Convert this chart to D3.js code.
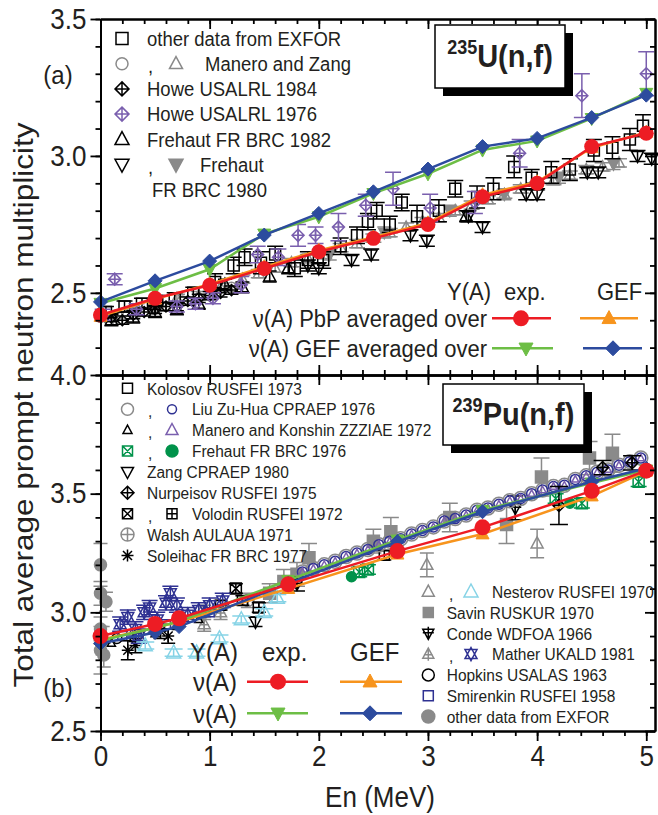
<!DOCTYPE html>
<html><head><meta charset="utf-8">
<script src="https://cdn.jsdelivr.net/npm/d3@7"></script>
<style>
html,body{margin:0;padding:0;background:#fff;}
svg{display:block;font-family:"Liberation Sans",Arial,sans-serif;}
</style></head><body>
<svg id="c" width="658" height="815"></svg>
<script>
// ===== DATA: calculations (energies in MeV) =====
const E_U = [0, 0.5, 1, 1.5, 2, 2.5, 3, 3.5, 4, 4.5, 5];
const U_pbp_exp = [2.419, 2.480, 2.528, 2.589, 2.650, 2.699, 2.750, 2.851, 2.900, 3.034, 3.083];
const U_pbp_gef = [2.414, 2.477, 2.532, 2.595, 2.655, 2.703, 2.755, 2.858, 2.905, 3.030, 3.086];
const U_gef_exp = [2.462, 2.516, 2.586, 2.715, 2.778, 2.863, 2.935, 3.022, 3.055, 3.137, 3.229];
const U_gef_gef = [2.467, 2.544, 2.616, 2.711, 2.790, 2.869, 2.952, 3.034, 3.064, 3.140, 3.222];

const E_Pu = [0, 0.5, 0.72, 1.72, 2.72, 3.5, 4.5, 5];
const Pu_pbp_exp = [2.900, 2.951, 2.975, 3.118, 3.258, 3.358, 3.512, 3.597];
const Pu_pbp_gef = [2.885, 2.935, 2.960, 3.100, 3.245, 3.330, 3.490, 3.595];
const Pu_gef_exp = [2.880, 2.935, 2.962, 3.135, 3.305, 3.430, 3.545, 3.600];
const Pu_gef_gef = [2.869, 2.915, 2.940, 3.122, 3.298, 3.424, 3.550, 3.607];

// ===== DATA: experiments, 235U  [E, nu, err] =====
const U_other = [[0.05,2.43,0.02],[0.22,2.45,0.02],[0.38,2.46,0.02],[0.52,2.47,0.02],[0.68,2.48,0.02],[0.85,2.50,0.02],[1.05,2.54,0.03],[1.22,2.60,0.03],[1.32,2.63,0.03],[1.47,2.61,0.04],[1.6,2.64,0.03],[1.78,2.59,0.03],[1.9,2.62,0.03],[2.04,2.62,0.03],[2.2,2.67,0.03],[2.35,2.71,0.03],[2.45,2.76,0.03],[2.53,2.80,0.03],[2.65,2.75,0.03],[2.76,2.83,0.03],[2.9,2.78,0.04],[3.1,2.80,0.04],[3.25,2.88,0.03],[3.45,2.85,0.04],[3.6,2.88,0.04],[3.79,2.96,0.04],[3.95,2.92,0.03],[4.13,2.94,0.04],[4.3,2.95,0.04],[4.52,3.02,0.04],[4.69,3.03,0.04],[4.85,3.06,0.04],[4.97,3.11,0.04]];
const U_mzCirc = [[0.0,2.41,0.01],[0.08,2.40,0.01],[0.15,2.42,0.01],[0.25,2.42,0.01],[0.35,2.43,0.01],[0.48,2.44,0.01],[0.6,2.45,0.01],[0.75,2.47,0.01],[0.9,2.48,0.01],[1.05,2.50,0.01],[1.2,2.52,0.01]];
const U_mzTri = [[0.1,2.41,0.015],[0.3,2.43,0.015],[0.5,2.45,0.015],[0.7,2.48,0.015],[0.9,2.49,0.015],[1.1,2.52,0.015],[1.3,2.55,0.015],[1.45,2.57,0.015],[1.6,2.59,0.015],[1.75,2.61,0.015],[1.9,2.625,0.015],[2.05,2.64,0.015],[2.2,2.665,0.015],[2.35,2.68,0.015],[2.5,2.70,0.015],[2.65,2.72,0.015],[2.8,2.74,0.015],[2.95,2.76,0.015],[3.1,2.775,0.015],[3.25,2.80,0.015],[3.4,2.82,0.015],[3.55,2.84,0.015],[3.7,2.86,0.015],[3.85,2.88,0.015],[4.0,2.89,0.015],[4.15,2.91,0.015],[4.3,2.93,0.015],[4.45,2.95,0.015],[4.6,2.96,0.015],[4.75,2.975,0.015]];
const U_howe84 = [[0.1,2.41,0.015],[0.2,2.40,0.015],[0.3,2.42,0.015],[0.4,2.43,0.015],[0.5,2.44,0.015],[0.6,2.45,0.015],[0.7,2.45,0.015],[0.8,2.47,0.015],[0.9,2.48,0.015],[1.0,2.49,0.015],[1.1,2.50,0.015],[1.2,2.51,0.015]];
const U_howe76 = [[0.02,2.42,0.02],[0.13,2.55,0.02],[0.33,2.44,0.02],[0.7,2.45,0.02],[0.87,2.46,0.02],[1.03,2.48,0.02],[1.29,2.53,0.03],[1.44,2.64,0.03],[1.63,2.63,0.03],[1.81,2.71,0.04],[1.97,2.71,0.03],[2.18,2.74,0.05],[2.43,2.82,0.04],[2.68,2.88,0.06],[3.02,2.81,0.05],[3.43,2.83,0.04],[3.84,3.01,0.05],[4.41,3.22,0.08],[5.0,3.30,0.08]];
const U_freh82 = [[0.1,2.40,0.02],[0.3,2.41,0.02],[0.5,2.43,0.02],[0.7,2.44,0.02],[0.9,2.46,0.02],[1.14,2.53,0.02],[1.3,2.52,0.02],[1.55,2.56,0.02],[1.72,2.59,0.02],[3.35,2.78,0.02]];
const U_freh80 = [[1.9,2.60,0.02],[2.0,2.59,0.02],[2.3,2.62,0.02],[2.48,2.64,0.02],[2.84,2.71,0.02],[2.99,2.69,0.02],[3.37,2.78,0.02],[3.5,2.74,0.02],[3.9,2.86,0.02],[4.0,2.86,0.02],[4.46,2.94,0.02],[4.56,2.94,0.02],[4.92,3.00,0.02],[5.05,2.99,0.02]];
const U_freh80g = [[2.1,2.64,0.02],[2.6,2.72,0.02],[3.2,2.80,0.02],[3.7,2.86,0.02],[4.2,2.92,0.02],[4.7,2.97,0.02]];

// ===== DATA: experiments, 239Pu  [E, nu, err] =====
const Pu_chain = [[1.85,3.17,0.01],[1.95,3.185,0.01],[2.05,3.2,0.01],[2.15,3.215,0.01],[2.25,3.235,0.01],[2.35,3.25,0.01],[2.45,3.265,0.01],[2.55,3.285,0.01],[2.65,3.30,0.01],[2.75,3.31,0.01],[2.85,3.33,0.01],[2.95,3.345,0.01],[3.05,3.36,0.01],[3.15,3.385,0.01],[3.25,3.395,0.01],[3.35,3.41,0.01],[3.45,3.43,0.01],[3.55,3.44,0.01],[3.65,3.455,0.01],[3.75,3.47,0.01],[3.85,3.48,0.01],[3.95,3.50,0.01],[4.05,3.515,0.01],[4.15,3.53,0.01],[4.25,3.535,0.01],[4.35,3.56,0.01],[4.45,3.575,0.01],[4.55,3.59,0.01],[4.65,3.60,0.01],[4.75,3.62,0.01],[4.85,3.635,0.01],[4.95,3.65,0.01]];
const Pu_savin = [[1.55,3.08,0.04],[1.68,3.13,0.05],[1.8,3.16,0.05],[1.91,3.23,0.06],[2.5,3.30,0.05],[2.66,3.34,0.06],[3.2,3.40,0.06],[3.72,3.37,0.08],[4.04,3.57,0.08],[4.48,3.65,0.07],[4.69,3.67,0.08]];
const Pu_other = [[0,3.20,0.09],[0,3.08,0.05],[0.05,3.045,0.04],[0,2.93,0.05],[0.02,2.88,0.06],[0,2.84,0.10],[0.03,2.82,0.05]];
const Pu_nestGrey = [[2.99,3.20,0.05],[4.0,3.29,0.06]];
const Pu_nestBlue = [[0.41,2.86,0.015],[0.67,2.83,0.015],[0.88,2.83,0.015],[1.09,2.89,0.015],[1.29,2.97,0.015],[1.5,3.0,0.015],[1.62,3.06,0.015]];
const Pu_mather = [[0.18,2.95,0.03],[0.25,2.98,0.03],[0.32,2.93,0.03],[0.35,2.90,0.03],[0.4,3.0,0.03],[0.45,3.02,0.03],[0.52,2.97,0.03],[0.6,3.04,0.03],[0.64,3.08,0.03],[0.7,3.03,0.03],[0.8,2.99,0.03],[0.9,3.01,0.03],[1.0,3.03,0.03],[1.12,3.05,0.03]];
const Pu_matherGrey = [[0.95,2.95,0.03],[1.1,3.0,0.03]];
const Pu_nurp = [[4.2,3.45,0.08],[4.6,3.61,0.03],[4.87,3.63,0.03]];
const Pu_freh76 = [[2.37,3.17,0.02],[2.45,3.18,0.02],[4.17,3.48,0.02],[4.41,3.46,0.02],[4.93,3.55,0.02]];
const Pu_freh76dot = [[2.3,3.15,0.01],[4.3,3.46,0.01]];
const Pu_conde = [[1.8,3.12,0.03],[3.8,3.44,0.05]];
const Pu_zang = [[1.42,2.96,0.02]];
const Pu_soleihac = [[0.25,2.84,0.04],[0.32,2.86,0.03],[0.55,2.92,0.03],[0.62,2.90,0.03]];
const Pu_volodinX = [[1.24,3.10,0.02]];
const Pu_volodinP = [[1.45,3.02,0.02]];
const Pu_walsh = [[0.95,3.0,0.03],[1.35,3.05,0.03]];
const Pu_manKonBlack = [[0.1,2.87,0.01],[0.3,2.89,0.01],[0.5,2.91,0.01],[0.7,2.94,0.01],[0.9,2.97,0.01]];
const Pu_hopkins = [[0.15,2.89,0.01],[0.35,2.91,0.01]];
const Pu_smirenkin = [[0.2,2.90,0.01],[0.6,2.95,0.01],[1.0,3.00,0.01]];
const Pu_kolosov = [[1.1,3.03,0.02],[1.3,3.05,0.02],[2.6,3.24,0.02]];

// ===== AXIS TICKS =====
const xMajor = [0,1,2,3,4,5];
const xMinor = d3.range(0, 5.01, 0.2);
const yTopMajor = [2.5, 3.0, 3.5];
const yTopMinor = d3.range(2.2, 3.51, 0.1);
const yBotMajor = [2.5, 3.0, 3.5, 4.0];
const yBotMinor = d3.range(2.5, 4.01, 0.1);

// ===== COLOURS =====
const C = {txt:'#231f20', red:'#ed1c24', orange:'#f7941d', green:'#6dbe45', blue:'#2c4b9e',
  purple:'#7a5fae', grey:'#8a8a8a', dblue:'#2e3192', lblue:'#86d3e6', dgreen:'#00924a'};
const VS = 1.1; // vertical stretch of glyphs as in the reference

const svg = d3.select('#c');
const x = d3.scaleLinear().domain([0,5.08]).range([100.5,655]);
const yT = d3.scaleLinear().domain([2.2,3.5]).range([375,19]);
const yB = d3.scaleLinear().domain([2.5,4.0]).range([731,375]);

function shapePath(t, s){
  const sq=`M${-s},${-s}H${s}V${s}H${-s}Z`;
  const ci=`M${s},0A${s},${s} 0 1,1 ${-s},0A${s},${s} 0 1,1 ${s},0Z`;
  const tu=`M0,${-s*1.1}L${s},${s*0.75}L${-s},${s*0.75}Z`;
  const td=`M0,${s*1.1}L${s},${-s*0.75}L${-s},${-s*0.75}Z`;
  const plus=`M0,${-s}V${s}M${-s},0H${s}`;
  const cross=`M${-s},${-s}L${s},${s}M${s},${-s}L${-s},${s}`;
  switch(t){
    case 'sq': return sq;
    case 'ci': return ci;
    case 'tu': return tu;
    case 'td': return td;
    case 'dx': return `M0,${-s}L${s},0L0,${s}L${-s},0Z`+plus;
    case 'dm': return `M0,${-s}L${s},0L0,${s}L${-s},0Z`;
    case 'sqx': return sq+cross;
    case 'sqp': return sq+plus;
    case 'cip': return ci+plus;
    case 'ast': return `M0,${-s}V${s}M${-s},0H${s}M${-s*.75},${-s*.75}L${s*.75},${s*.75}M${s*.75},${-s*.75}L${-s*.75},${s*.75}`;
    case 'hex': return tu+td;
    case 'tdx': return td+`M0,${-s*1.2}V${s*1.1}M${-s},${-s*0.1}H${s}`;
    case 'tup': return tu+`M0,${-s*1.1}V${s*1.2}M${-s*0.8},${s*0.1}H${s*0.8}`;
  }
}
function mark(g, t, cx, cy, col, s, filled, sw){
  g.append('path').attr('d', shapePath(t,s)).attr('transform',`translate(${cx},${cy})`)
   .attr('fill', filled?col:'none').attr('stroke',col).attr('stroke-width',sw||1.5);
}
function series(g, data, y, t, col, s, filled, cap, ecol){
  const gg = g.append('g');
  data.forEach(d=>{
    const cx=x(d[0]);
    if(d[2]>0.012){
      gg.append('path').attr('d',`M${cx-cap/2},${y(d[1]+d[2])}H${cx+cap/2}M${cx},${y(d[1]+d[2])}V${y(d[1]-d[2])}M${cx-cap/2},${y(d[1]-d[2])}H${cx+cap/2}`)
        .attr('stroke',ecol||col).attr('stroke-width',1.5).attr('fill','none');
    }
  });
  data.forEach(d=>mark(gg,t,x(d[0]),y(d[1]),col,s,filled));
}
function model(g, E, vals, y, col, t, s){
  const pts = E.map((e,i)=>[e,vals[i]]);
  g.append('path').datum(pts).attr('d', d3.line().x(d=>x(d[0])).y(d=>y(d[1])))
   .attr('fill','none').attr('stroke',col).attr('stroke-width',2.5);
  pts.forEach(p=>{
    if(t==='dot') g.append('circle').attr('cx',x(p[0])).attr('cy',y(p[1])).attr('r',s).attr('fill',col);
    else mark(g,t,x(p[0]),y(p[1]),col,s,true,1);
  });
}
function text(g, tx, ty, str, size, anchor, opts){
  const t=g.append('text').attr('transform',`translate(${tx},${ty}) scale(1,${VS})`).attr('font-size',size).attr('fill',C.txt)
    .attr('text-anchor',anchor||'start').attr('dominant-baseline','central').text(str);
  if(opts&&opts.bold) t.attr('font-weight','bold');
  return t;
}

// ===== TOP PANEL DATA =====
const gT = svg.append('g');
series(gT, U_mzCirc, yT, 'ci', C.grey, 5, false, 12);
series(gT, U_mzTri, yT, 'tu', C.grey, 5.5, false, 16);
series(gT, U_freh80g, yT, 'td', C.grey, 5.5, true, 14);
series(gT, U_other, yT, 'sq', '#000', 5.5, false, 16);
series(gT, U_howe84, yT, 'dx', '#000', 5.5, false, 14);
series(gT, U_freh82, yT, 'tu', '#000', 6, false, 14);
series(gT, U_freh80, yT, 'td', '#000', 6, false, 16);
series(gT, U_howe76, yT, 'dx', C.purple, 6, false, 16);
model(gT, E_U, U_pbp_gef, yT, C.orange, 'tu', 6.5);
model(gT, E_U, U_gef_exp, yT, C.green, 'td', 6.5);
model(gT, E_U, U_gef_gef, yT, C.blue, 'dm', 7);
model(gT, E_U, U_pbp_exp, yT, C.red, 'dot', 7.5);

// ===== BOTTOM PANEL DATA =====
const gB = svg.append('g');
series(gB, Pu_other, yB, 'ci', C.grey, 6, true, 14);
series(gB, Pu_savin, yB, 'sq', C.grey, 6, true, 16);
series(gB, Pu_nestGrey, yB, 'tu', C.grey, 6, false, 14);
series(gB, Pu_walsh, yB, 'cip', C.grey, 6, false, 14);
series(gB, Pu_matherGrey, yB, 'tup', C.grey, 6, false, 14);
series(gB, Pu_manKonBlack, yB, 'tu', '#000', 4, false, 10);
series(gB, Pu_hopkins, yB, 'ci', '#000', 5, false, 10);
series(gB, Pu_smirenkin, yB, 'sq', C.dblue, 4.5, false, 10);
series(gB, Pu_soleihac, yB, 'ast', '#000', 6, false, 14);
series(gB, Pu_kolosov, yB, 'sq', '#000', 5, false, 14);
series(gB, Pu_volodinX, yB, 'sqx', '#000', 5.5, false, 14);
series(gB, Pu_volodinP, yB, 'sqp', '#000', 5.5, false, 14);
series(gB, Pu_zang, yB, 'td', '#000', 6, false, 14);
series(gB, Pu_conde, yB, 'tdx', '#000', 6, false, 16);
series(gB, Pu_mather, yB, 'hex', C.dblue, 6, false, 16);
series(gB, Pu_nestBlue, yB, 'tu', C.lblue, 7, false, 18);
series(gB, Pu_freh76, yB, 'sqx', C.dgreen, 5.5, false, 16);
series(gB, Pu_freh76dot, yB, 'ci', C.dgreen, 5, true, 10);
series(gB, Pu_chain, yB, 'ci', C.grey, 7, false, 10);
series(gB, Pu_chain, yB, 'ci', C.dblue, 5, false, 10);
series(gB, Pu_chain, yB, 'tu', C.purple, 3.5, false, 10);
series(gB, Pu_nurp, yB, 'dx', '#000', 6, false, 18);
model(gB, E_Pu, Pu_pbp_gef, yB, C.orange, 'tu', 6.5);
model(gB, E_Pu, Pu_gef_exp, yB, C.green, 'td', 6.5);
model(gB, E_Pu, Pu_gef_gef, yB, C.blue, 'dm', 7);
model(gB, E_Pu, Pu_pbp_exp, yB, C.red, 'dot', 8);

// ===== AXES =====
function styleAxis(g, size){
  g.selectAll('.domain').attr('stroke','#000').attr('stroke-width',2);
  g.selectAll('.tick line').attr('stroke','#000').attr('stroke-width',1.8);
  g.selectAll('text').attr('font-size',size||26).attr('fill',C.txt)
   .attr('font-family','"Liberation Sans",Arial,sans-serif').attr('transform',`scale(1,${VS})`);
}
function ax(gen, tx, ty, size){
  const g = svg.append('g').attr('transform',`translate(${tx},${ty})`).call(gen);
  styleAxis(g,size); return g;
}
const f1 = d3.format('.1f');
// top panel
ax(d3.axisLeft(yT).tickValues(yTopMinor).tickSize(5).tickSizeOuter(0).tickFormat(''), 100.5, 0);
ax(d3.axisLeft(yT).tickValues(yTopMajor).tickSize(10).tickSizeOuter(0).tickPadding(4).tickFormat(f1), 100.5, 0);
ax(d3.axisLeft(yT).tickValues(yTopMinor).tickSize(5).tickSizeOuter(0).tickFormat(''), 655, 0);
ax(d3.axisLeft(yT).tickValues(yTopMajor).tickSize(10).tickSizeOuter(0).tickFormat(''), 655, 0);
ax(d3.axisBottom(x).tickValues(xMinor).tickSize(5).tickSizeOuter(0).tickFormat(''), 0, 19);
ax(d3.axisBottom(x).tickValues(xMajor).tickSize(10).tickSizeOuter(0).tickFormat(''), 0, 19);
ax(d3.axisTop(x).tickValues(xMinor).tickSize(5).tickSizeOuter(0).tickFormat(''), 0, 375);
ax(d3.axisTop(x).tickValues(xMajor).tickSize(10).tickSizeOuter(0).tickFormat(''), 0, 375);
// bottom panel
ax(d3.axisLeft(yB).tickValues(yBotMinor).tickSize(5).tickSizeOuter(0).tickFormat(''), 100.5, 0);
ax(d3.axisLeft(yB).tickValues(yBotMajor).tickSize(10).tickSizeOuter(0).tickPadding(4).tickFormat(f1), 100.5, 0);
ax(d3.axisLeft(yB).tickValues(yBotMinor).tickSize(5).tickSizeOuter(0).tickFormat(''), 655, 0);
ax(d3.axisLeft(yB).tickValues(yBotMajor).tickSize(10).tickSizeOuter(0).tickFormat(''), 655, 0);
ax(d3.axisBottom(x).tickValues(xMinor).tickSize(5).tickSizeOuter(0).tickFormat(''), 0, 375);
ax(d3.axisBottom(x).tickValues(xMajor).tickSize(10).tickSizeOuter(0).tickFormat(''), 0, 375);
ax(d3.axisBottom(x).tickValues(xMinor).tickSize(5).tickSizeOuter(0).tickFormat(''), 0, 731);
ax(d3.axisBottom(x).tickValues(xMajor).tickSize(10).tickSizeOuter(0).tickPadding(3).tickFormat(d3.format('d')), 0, 731);

// axis titles & panel tags
const gL = svg.append('g');
gL.append('text').attr('transform','translate(33,405) rotate(-90)').attr('text-anchor','middle')
  .attr('font-size',28).attr('fill',C.txt).attr('textLength',565).attr('lengthAdjust','spacingAndGlyphs')
  .text('Total average prompt neutron multiplicity');
gL.append('text').attr('transform',`translate(380,807) scale(1,${VS})`).attr('text-anchor','middle').attr('font-size',26).attr('fill',C.txt).text('En (MeV)');
text(gL, 58, 75, '(a)', 24, 'middle');
text(gL, 58, 688, '(b)', 24, 'middle');

// nucleus boxes
function nucBox(bx,by,bw,bh,mass,rest){
  const g=svg.append('g');
  g.append('rect').attr('x',bx+8).attr('y',by+8).attr('width',bw).attr('height',bh).attr('fill','#000');
  g.append('rect').attr('x',bx).attr('y',by).attr('width',bw).attr('height',bh).attr('fill','#fff').attr('stroke','#000').attr('stroke-width',1.5);
  const t=g.append('text').attr('transform',`translate(${bx+bw/2},${by+bh/2+10}) scale(1,${VS})`).attr('text-anchor','middle').attr('font-weight','bold').attr('fill',C.txt);
  t.append('tspan').attr('font-size',18).attr('dy',-11).text(mass);
  t.append('tspan').attr('font-size',29).attr('dy',11).text(rest);
}
nucBox(435,25,130,63,'235','U(n,f)');
nucBox(443,384,141,61,'239','Pu(n,f)');

// ===== LEGENDS =====
const gLeg = svg.append('g');
function legRow(cfg, i, syms, label, second){
  const yy = cfg.y0 + i*cfg.dy;
  if(syms[0]) mark(gLeg, syms[0].t, cfg.sx, yy, syms[0].c, syms[0].s, syms[0].f);
  if(second){
    text(gLeg, cfg.cx, yy+2, ',', cfg.fs);
    mark(gLeg, second.t, cfg.sx2, yy, second.c, second.s, second.f);
    text(gLeg, cfg.tx2, yy, label, cfg.fs);
  } else {
    text(gLeg, syms[0]?cfg.tx:cfg.tx+5, yy, label, cfg.fs);
  }
}
// top-left
const tl = {sx:122, tx:147, y0:38.5, dy:25.2, fs:18.5, cx:148, sx2:176, tx2:205};
legRow(tl,0,[{t:'sq',c:'#000',s:6}],'other data from EXFOR');
legRow(tl,1,[{t:'ci',c:C.grey,s:6}],'Manero and Zang',{t:'tu',c:C.grey,s:6.5});
legRow(tl,2,[{t:'dx',c:'#000',s:7}],'Howe USALRL 1984');
legRow(tl,3,[{t:'dx',c:C.purple,s:7}],'Howe USALRL 1976');
legRow(tl,4,[{t:'tu',c:'#000',s:7}],'Frehaut FR BRC 1982');
tl.tx2 = 200;
legRow(tl,5,[{t:'td',c:'#000',s:7}],'Frehaut',{t:'td',c:C.grey,s:7,f:true});
legRow(tl,6,[null],'FR BRC 1980');

// bottom-left
const bl = {sx:127.5, tx:147, y0:388.3, dy:20.9, fs:15.5, cx:148, sx2:172, tx2:192};
legRow(bl,0,[{t:'sq',c:'#000',s:5}],'Kolosov RUSFEI 1973');
legRow(bl,1,[{t:'ci',c:C.grey,s:6}],'Liu Zu-Hua CPRAEP 1976',{t:'ci',c:C.dblue,s:4.5});
legRow(bl,2,[{t:'tu',c:'#000',s:4.5}],'Manero and Konshin ZZZIAE 1972',{t:'tu',c:C.purple,s:6});
legRow(bl,3,[{t:'sqx',c:C.dgreen,s:5}],'Frehaut FR BRC 1976',{t:'ci',c:C.dgreen,s:6,f:true});
legRow(bl,4,[{t:'td',c:'#000',s:6}],'Zang CPRAEP 1980');
legRow(bl,5,[{t:'dx',c:'#000',s:6.5}],'Nurpeisov RUSFEI 1975');
legRow(bl,6,[{t:'sqx',c:'#000',s:5}],'Volodin RUSFEI 1972',{t:'sqp',c:'#000',s:5});
legRow(bl,7,[{t:'cip',c:C.grey,s:6.5}],'Walsh AULAUA 1971');
legRow(bl,8,[{t:'ast',c:'#000',s:6}],'Soleihac FR BRC 1977');

// bottom-right
const br = {sx:428.3, tx:446.7, y0:591.7, dy:20.8, fs:15.5, cx:449, sx2:471, tx2:492};
legRow(br,0,[{t:'tu',c:C.grey,s:6}],'Nesterov RUSFEI 1970',{t:'tu',c:C.lblue,s:7});
legRow(br,1,[{t:'sq',c:C.grey,s:5,f:true}],'Savin RUSKUR 1970');
legRow(br,2,[{t:'tdx',c:'#000',s:5.5}],'Conde WDFOA 1966');
legRow(br,3,[{t:'tup',c:C.grey,s:5.5}],'Mather UKALD 1981',{t:'hex',c:C.dblue,s:6});
legRow(br,4,[{t:'ci',c:'#000',s:6}],'Hopkins USALAS 1963');
legRow(br,5,[{t:'sq',c:C.dblue,s:5}],'Smirenkin RUSFEI 1958');
legRow(br,6,[{t:'ci',c:C.grey,s:6.5,f:true}],'other data from EXFOR');

// model legends
function modelLeg(hx, hy, rows, fs){
  text(gLeg, hx.ya, hy, 'Y(A)', fs);
  text(gLeg, hx.exp, hy, 'exp.', fs);
  text(gLeg, hx.gef, hy, 'GEF', fs);
  rows.forEach(r=>{
    text(gLeg, hx.labR, r.y, r.label, fs, 'end');
    r.items.forEach(it=>{
      gLeg.append('line').attr('x1',it.x1).attr('x2',it.x2).attr('y1',r.y).attr('y2',r.y).attr('stroke',it.c).attr('stroke-width',2.5);
      if(it.t==='dot') gLeg.append('circle').attr('cx',it.m).attr('cy',r.y).attr('r',8).attr('fill',it.c);
      else mark(gLeg,it.t,it.m,r.y,it.c,it.s,true,1);
    });
  });
}
modelLeg({ya:447,exp:504,gef:597,labR:487}, 291.7, [
  {y:318.3,label:'\u03bd(A) PbP averaged over',items:[{x1:492,x2:551,m:521,c:C.red,t:'dot'},{x1:580,x2:638,m:609,c:C.orange,t:'tu',s:7}]},
  {y:348.3,label:'\u03bd(A) GEF averaged over',items:[{x1:492,x2:553,m:526,c:C.green,t:'td',s:7},{x1:583,x2:642,m:613,c:C.blue,t:'dm',s:7.5}]}
], 22);
modelLeg({ya:190,exp:262,gef:350,labR:237}, 651.7, [
  {y:681.7,label:'\u03bd(A)',items:[{x1:247,x2:308,m:278,c:C.red,t:'dot'},{x1:340,x2:402,m:370,c:C.orange,t:'tu',s:7}]},
  {y:713.3,label:'\u03bd(A)',items:[{x1:247,x2:308,m:278,c:C.green,t:'td',s:7},{x1:340,x2:402,m:370,c:C.blue,t:'dm',s:7.5}]}
], 24);
</script></body></html>
